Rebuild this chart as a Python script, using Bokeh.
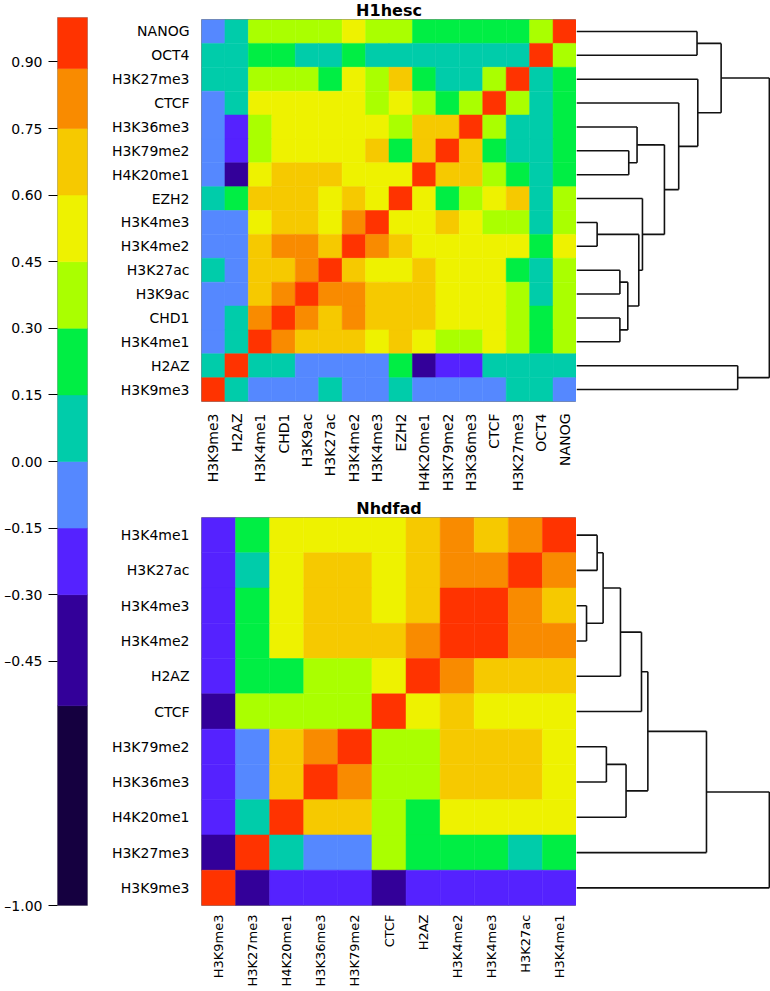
import numpy as np
from bokeh.plotting import figure
from bokeh.models import ColumnDataSource, FactorRange, Range1d, FixedTicker
from bokeh.core.properties import value
from bokeh.layouts import row, column
from bokeh.embed import file_html
from bokeh.resources import INLINE

FONT = "DejaVu Sans"

# ---------------- colour scale ----------------
breaks = [-1.0, -0.55, -0.30, -0.15, 0.0, 0.15, 0.30, 0.45, 0.60, 0.75, 0.885, 1.0]
palette = ["#150040", "#330099", "#5522FF", "#5588FF", "#00CCAA", "#00EE44",
           "#AAFF00", "#EEF200", "#F6C900", "#F98B00", "#FF3300"]
cb_ticks = [0.90, 0.75, 0.60, 0.45, 0.30, 0.15, 0.00, -0.15, -0.30, -0.45, -1.00]

# ---------------- H1hesc ----------------
h1_rows = ["NANOG", "OCT4", "H3K27me3", "CTCF", "H3K36me3", "H3K79me2", "H4K20me1", "EZH2",
           "H3K4me3", "H3K4me2", "H3K27ac", "H3K9ac", "CHD1", "H3K4me1", "H2AZ", "H3K9me3"]
h1_cols = ["H3K9me3", "H2AZ", "H3K4me1", "CHD1", "H3K9ac", "H3K27ac", "H3K4me2", "H3K4me3",
           "EZH2", "H4K20me1", "H3K79me2", "H3K36me3", "CTCF", "H3K27me3", "OCT4", "NANOG"]
h1_corr = [
    [-0.07, 0.07, 0.38, 0.38, 0.38, 0.38, 0.53, 0.38, 0.38, 0.22, 0.22, 0.22, 0.22, 0.22, 0.38, 1.00],
    [0.07, 0.07, 0.22, 0.22, 0.07, 0.07, 0.22, 0.07, 0.07, 0.07, 0.07, 0.07, 0.07, 0.07, 1.00, 0.38],
    [0.07, 0.07, 0.38, 0.38, 0.38, 0.22, 0.53, 0.38, 0.68, 0.22, 0.07, 0.07, 0.38, 1.00, 0.07, 0.22],
    [-0.07, 0.07, 0.53, 0.53, 0.53, 0.53, 0.53, 0.38, 0.53, 0.38, 0.22, 0.38, 1.00, 0.38, 0.07, 0.22],
    [-0.07, -0.22, 0.38, 0.53, 0.53, 0.53, 0.53, 0.53, 0.38, 0.68, 0.68, 1.00, 0.38, 0.07, 0.07, 0.22],
    [-0.07, -0.22, 0.38, 0.53, 0.53, 0.53, 0.53, 0.68, 0.22, 0.68, 1.00, 0.68, 0.22, 0.07, 0.07, 0.22],
    [-0.07, -0.42, 0.53, 0.68, 0.68, 0.68, 0.53, 0.53, 0.53, 1.00, 0.68, 0.68, 0.38, 0.22, 0.07, 0.22],
    [0.07, 0.22, 0.68, 0.68, 0.68, 0.53, 0.68, 0.53, 1.00, 0.53, 0.22, 0.38, 0.53, 0.68, 0.07, 0.38],
    [-0.07, -0.07, 0.53, 0.68, 0.68, 0.53, 0.82, 1.00, 0.53, 0.53, 0.68, 0.53, 0.38, 0.38, 0.07, 0.38],
    [-0.07, -0.07, 0.68, 0.82, 0.82, 0.68, 1.00, 0.82, 0.68, 0.53, 0.53, 0.53, 0.53, 0.53, 0.22, 0.53],
    [0.07, -0.07, 0.68, 0.68, 0.82, 1.00, 0.68, 0.53, 0.53, 0.68, 0.53, 0.53, 0.53, 0.22, 0.07, 0.38],
    [-0.07, -0.07, 0.68, 0.82, 1.00, 0.82, 0.82, 0.68, 0.68, 0.68, 0.53, 0.53, 0.53, 0.38, 0.07, 0.38],
    [-0.07, 0.07, 0.82, 1.00, 0.82, 0.68, 0.82, 0.68, 0.68, 0.68, 0.53, 0.53, 0.53, 0.38, 0.22, 0.38],
    [-0.07, 0.07, 1.00, 0.82, 0.68, 0.68, 0.68, 0.53, 0.68, 0.53, 0.38, 0.38, 0.53, 0.38, 0.22, 0.38],
    [0.07, 1.00, 0.07, 0.07, -0.07, -0.07, -0.07, -0.07, 0.22, -0.42, -0.22, -0.22, 0.07, 0.07, 0.07, 0.07],
    [1.00, 0.07, -0.07, -0.07, -0.07, 0.07, -0.07, -0.07, 0.07, -0.07, -0.07, -0.07, -0.07, 0.07, 0.07, -0.07],
]
# dendrogram merges (ints refer to earlier merges), heights relative to root
h1_merge_a = ["H3K4me3", "H3K27ac", "CHD1", 1, "H3K79me2", "H3K36me3", 0, "EZH2", 5, "CTCF",
              "NANOG", "H3K27me3", 10, "H2AZ", 12]
h1_merge_b = ["H3K4me2", "H3K9ac", "H3K4me1", 2, "H4K20me1", 4, 3, 6, 7, 8,
              "OCT4", 9, 11, "H3K9me3", 13]
h1_merge_h = [0.107, 0.225, 0.225, 0.266, 0.271, 0.314, 0.323, 0.342, 0.456, 0.530,
              0.625, 0.629, 0.750, 0.836, 1.000]

# ---------------- Nhdfad ----------------
nh_rows = ["H3K4me1", "H3K27ac", "H3K4me3", "H3K4me2", "H2AZ", "CTCF", "H3K79me2",
           "H3K36me3", "H4K20me1", "H3K27me3", "H3K9me3"]
nh_cols = ["H3K9me3", "H3K27me3", "H4K20me1", "H3K36me3", "H3K79me2", "CTCF", "H2AZ",
           "H3K4me2", "H3K4me3", "H3K27ac", "H3K4me1"]
nh_corr = [
    [-0.22, 0.22, 0.53, 0.53, 0.53, 0.53, 0.68, 0.82, 0.68, 0.82, 1.00],
    [-0.22, 0.07, 0.53, 0.68, 0.68, 0.53, 0.68, 0.82, 0.82, 1.00, 0.82],
    [-0.22, 0.22, 0.53, 0.68, 0.68, 0.53, 0.68, 0.93, 1.00, 0.82, 0.68],
    [-0.22, 0.22, 0.53, 0.68, 0.68, 0.68, 0.82, 1.00, 0.93, 0.82, 0.82],
    [-0.22, 0.22, 0.22, 0.38, 0.38, 0.53, 1.00, 0.82, 0.68, 0.68, 0.68],
    [-0.42, 0.38, 0.38, 0.38, 0.38, 1.00, 0.53, 0.68, 0.53, 0.53, 0.53],
    [-0.22, -0.07, 0.68, 0.82, 1.00, 0.38, 0.38, 0.68, 0.68, 0.68, 0.53],
    [-0.22, -0.07, 0.68, 1.00, 0.82, 0.38, 0.38, 0.68, 0.68, 0.68, 0.53],
    [-0.22, 0.07, 1.00, 0.68, 0.68, 0.38, 0.22, 0.53, 0.53, 0.53, 0.53],
    [-0.42, 1.00, 0.07, -0.07, -0.07, 0.38, 0.22, 0.22, 0.22, 0.07, 0.22],
    [1.00, -0.42, -0.22, -0.22, -0.22, -0.42, -0.22, -0.22, -0.22, -0.22, -0.22],
]
nh_merge_a = ["H3K4me3", "H3K4me1", 1, "H3K79me2", 2, 3, 4, 6, 7, 8]
nh_merge_b = ["H3K4me2", "H3K27ac", 0, "H3K36me3", "H2AZ", "H4K20me1", "CTCF", 5, "H3K27me3", "H3K9me3"]
nh_merge_h = [0.052, 0.107, 0.138, 0.155, 0.228, 0.257, 0.337, 0.370, 0.674, 1.000]

TOTAL_H = 990
HM_W = 468
HM_LEFT = 90
DD_W = 194
CB_W = 108
TOP1 = 19          # top of first heatmap frame
TOP2 = 517         # top of second heatmap frame
SPLIT = 497        # boundary between upper and lower blocks


def color_of(v):
    k = int(np.searchsorted(breaks, v, side="right")) - 1
    return palette[min(max(k, 0), len(palette) - 1)]


def title_fig(title, height, center_from_top):
    # title strip above a heatmap; text centred vertically at `center_from_top` px
    p = figure(width=HM_W, height=height, x_range=Range1d(0, 1), y_range=Range1d(0, height),
               x_axis_location=None, y_axis_location=None, output_backend="svg",
               toolbar_location=None, min_border_left=HM_LEFT, min_border_right=0,
               min_border_top=0, min_border_bottom=0)
    p.text(x=[0.5], y=[height - center_from_top], text=[title], text_align=value("center"),
           text_baseline=value("middle"), text_font=value(FONT), text_font_style=value("bold"),
           text_font_size=value("16px"), text_color="black")
    p.grid.visible = False
    p.outline_line_color = None
    return p


def heatmap(rows, cols, corr, height, bottom, xfs, xstand):
    xs, ys, vs, cs = [], [], [], []
    for i, r in enumerate(rows):
        for j, c in enumerate(cols):
            xs.append(c); ys.append(r); vs.append(corr[i][j]); cs.append(color_of(corr[i][j]))
    src = ColumnDataSource(dict(x=xs, y=ys, v=vs, color=cs))
    p = figure(width=HM_W, height=height, x_range=FactorRange(*cols),
               y_range=FactorRange(*rows[::-1]), output_backend="svg", toolbar_location=None,
               min_border_left=HM_LEFT, min_border_right=0, min_border_top=0,
               min_border_bottom=bottom)
    p.rect(x="x", y="y", width=1, height=1, source=src, fill_color="color",
           line_color="color", line_width=0.5)
    p.grid.visible = False
    p.outline_line_color = "#888888"
    p.outline_line_width = 1
    for ax in (p.xaxis[0], p.yaxis[0]):
        ax.axis_line_color = None
        ax.major_tick_line_color = None
        ax.minor_tick_line_color = None
        ax.major_label_text_font = FONT
        ax.major_label_text_color = "black"
    p.yaxis.major_label_text_font_size = "14px"
    p.yaxis.major_label_standoff = 6
    p.xaxis.major_label_text_font_size = xfs
    p.xaxis.major_label_standoff = xstand
    p.xaxis.major_label_orientation = np.pi / 2
    return p


def dendrogram(leaves, ma, mb, mh, height, top, bottom):
    n = len(leaves)
    pos = {name: n - i - 0.5 for i, name in enumerate(leaves)}
    ny, nhh = [], []
    x0, y0, x1, y1 = [], [], [], []

    def get(c):
        if isinstance(c, int):
            return ny[c], nhh[c]
        return pos[c], 0.0

    for a, b, h in zip(ma, mb, mh):
        ya, ha = get(a)
        yb, hb = get(b)
        x0 += [ha, hb, h]; y0 += [ya, yb, ya]
        x1 += [h, h, h]; y1 += [ya, yb, yb]
        ny.append((ya + yb) / 2.0); nhh.append(h)
    p = figure(width=DD_W, height=height, x_range=Range1d(0, 1.006), y_range=Range1d(0, n),
               x_axis_location=None, y_axis_location=None, output_backend="svg",
               toolbar_location=None, min_border_left=0, min_border_right=0,
               min_border_top=top, min_border_bottom=bottom)
    p.segment(x0=x0, y0=y0, x1=x1, y1=y1, line_color="#111111", line_width=1.6)
    p.grid.visible = False
    p.outline_line_color = None
    return p


# colour bar
cb = figure(width=CB_W, height=TOTAL_H, x_range=Range1d(0, 1), y_range=Range1d(-1, 1),
            x_axis_location=None, output_backend="svg", toolbar_location=None,
            min_border_left=57, min_border_right=21, min_border_top=17, min_border_bottom=85)
cb.quad(left=0, right=1, bottom=breaks[:-1], top=breaks[1:], fill_color=palette,
        line_color=palette, line_width=0.5)
cb.grid.visible = False
cb.outline_line_color = "#666666"
cb.outline_line_alpha = 0.6
ya = cb.yaxis[0]
ya.ticker = FixedTicker(ticks=cb_ticks)
ya.major_label_overrides = {t: ("%.2f" % t).replace("-", "\u2013") for t in cb_ticks}
ya.axis_line_color = None
ya.major_tick_out = 9
ya.major_tick_in = 0
ya.major_tick_line_color = "black"
ya.minor_tick_line_color = None
ya.major_label_standoff = 6
ya.major_label_text_font = FONT
ya.major_label_text_font_size = "14px"
ya.major_label_text_color = "black"

h1_title = title_fig("H1hesc", TOP1, 9.5)
h1_hm = heatmap(h1_rows, h1_cols, h1_corr, SPLIT - TOP1, 96, "14px", 6)
nh_title = title_fig("Nhdfad", TOP2 - SPLIT, 10.5)
nh_hm = heatmap(nh_rows, nh_cols, nh_corr, TOTAL_H - TOP2, 85, "13px", 3)
h1_dd = dendrogram(h1_rows, h1_merge_a, h1_merge_b, h1_merge_h, SPLIT, TOP1, 96)
nh_dd = dendrogram(nh_rows, nh_merge_a, nh_merge_b, nh_merge_h, TOTAL_H - SPLIT, TOP2 - SPLIT, 85)

layout = row(cb, column(h1_title, h1_hm, nh_title, nh_hm), column(h1_dd, nh_dd))

open("out.html", "w").write(file_html(layout, INLINE))
